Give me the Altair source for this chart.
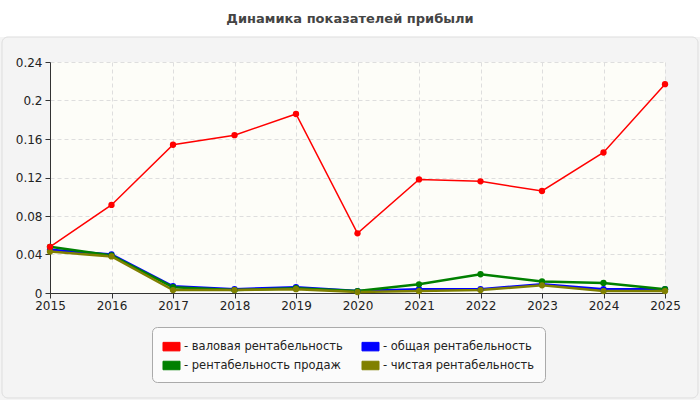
import altair as alt
import pandas as pd

years = [2015, 2016, 2017, 2018, 2019, 2020, 2021, 2022, 2023, 2024, 2025]
series_names = ["валовая рентабельность", "общая рентабельность",
                "рентабельность продаж", "чистая рентабельность"]
colors = ["#ff0000", "#0000ff", "#008000", "#808000"]
title_text = "Динамика показателей прибыли"

gross = [0.048, 0.0915, 0.154, 0.164, 0.186, 0.062, 0.118, 0.116, 0.106, 0.146, 0.217]
overall = [0.045, 0.040, 0.007, 0.004, 0.006, 0.002, 0.004, 0.004, 0.009, 0.004, 0.004]
sales = [0.048, 0.039, 0.006, 0.003, 0.005, 0.002, 0.009, 0.0195, 0.012, 0.0105, 0.004]
net = [0.043, 0.038, 0.003, 0.003, 0.004, 0.001, 0.002, 0.003, 0.008, 0.002, 0.002]

rows = []
for name, vals, order in zip(series_names, [gross, overall, sales, net], [3, 0, 1, 2]):
    for y, v in zip(years, vals):
        rows.append({"year": y, "value": v, "series": name, "z": order})
df = pd.DataFrame(rows)

FONT = "DejaVu Sans"
W, H = 615, 231

color = alt.Color(
    "series:N",
    scale=alt.Scale(domain=series_names, range=colors),
    legend=alt.Legend(
        title=None, orient="none", legendX=102, legendY=265, columns=2,
        values=[series_names[0], series_names[2], series_names[1], series_names[3]],
        columnPadding=16, rowPadding=3, padding=10,
        fillColor="#fbfbfb", strokeColor="#aaaaaa", cornerRadius=5,
        labelExpr="'- ' + datum.label", labelFont=FONT, labelFontSize=11.5,
        labelColor="#222222", labelLimit=300, labelOffset=3,
        symbolType="M-1,-0.5L1,-0.5L1,0.5L-1,0.5Z", symbolSize=290,
        symbolStrokeColor="#999999", symbolStrokeWidth=1, symbolOpacity=1,
        offset=0,
    ),
)

x = alt.X("year:Q", scale=alt.Scale(domain=[2015, 2025], nice=False),
          axis=alt.Axis(values=years, format="d", title=None, grid=True,
                        gridDash=[4, 3], gridColor="#dedede", tickSize=5,
                        domainColor="#333333", tickColor="#333333",
                        labelFont=FONT, labelFontSize=12, labelColor="#222222",
                        labelPadding=2, labelFlush=False))
y = alt.Y("value:Q", scale=alt.Scale(domain=[0, 0.24], nice=False),
          axis=alt.Axis(values=[0, 0.04, 0.08, 0.12, 0.16, 0.2, 0.24], format="~g",
                        title=None, grid=True, gridDash=[4, 3], gridColor="#dedede",
                        tickSize=5, domainColor="#333333", tickColor="#333333",
                        labelFont=FONT, labelFontSize=12, labelColor="#222222",
                        labelPadding=3))

bg = pd.DataFrame({"k": [0]})
title_strip = alt.Chart(bg).mark_rect(color="white").encode(
    x=alt.value(-50), x2=alt.value(650), y=alt.value(-62), y2=alt.value(-25))
panel = alt.Chart(bg).mark_rect(fill=None, stroke="#dddddd", cornerRadius=6, strokeWidth=1).encode(
    x=alt.value(-48), x2=alt.value(648), y=alt.value(-25), y2=alt.value(336))
title = alt.Chart(bg).mark_text(
    text=title_text, font=FONT, fontSize=13, fontWeight="bold", color="#444444",
    align="center", baseline="middle").encode(x=alt.value(300), y=alt.value(-43))

base = alt.Chart(df)
lines_thin = base.transform_filter(alt.datum.series == series_names[0]).mark_line(strokeWidth=1.5).encode(
    x=x, y=y, color=color)
lines_thick = base.transform_filter(alt.datum.series != series_names[0]).mark_line(strokeWidth=2.5).encode(
    x=x, y=y, color=color, order=alt.Order("z:Q"))
points = base.mark_circle(size=40, opacity=1).encode(
    x=x, y=y, color=color, order=alt.Order("z:Q"))

chart = alt.layer(title_strip, panel, title, lines_thick, lines_thin, points).properties(
    width=W, height=H,
    background="#f4f4f4",
    padding={"left": 50, "top": 62, "right": 35, "bottom": 107},
    autosize=alt.AutoSizeParams(type="none"),
).configure_view(fill="#fdfdf8", stroke=None)

chart.save("out.html", embed_options={"renderer": "svg", "actions": False})
